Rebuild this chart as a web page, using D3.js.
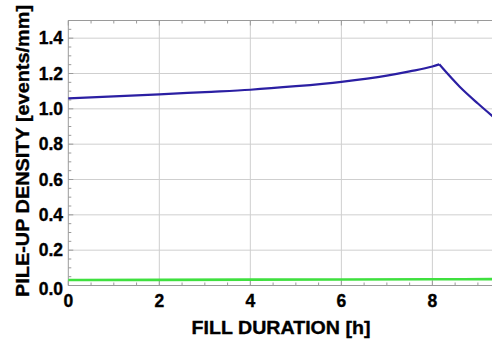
<!DOCTYPE html>
<html>
<head>
<meta charset="utf-8">
<script src="https://cdn.jsdelivr.net/npm/d3@7"></script>
<style>
  html, body { margin: 0; padding: 0; background: #fff; }
  svg { display: block; }
  text { font-family: "Liberation Sans", Arial, sans-serif; font-weight: bold; fill: #000; stroke: #000; stroke-width: 0.35px; }
</style>
</head>
<body>
<svg id="chart" width="492" height="341"></svg>
<script>
// Pile-up density during a fill: levelling phase, then decay
const levelHours   = [0, 1, 2, 3, 4, 5, 6, 7, 7.5, 8, 8.15];
const levelDensity = [1.059, 1.070, 1.082, 1.095, 1.108, 1.128, 1.153, 1.188, 1.212, 1.240, 1.252];
const decayHours   = [8.15, 8.6, 9.0, 9.35];
const decayDensity = [1.252, 1.125, 1.030, 0.952];
// Lower reference curve
const lowHours   = [0, 2, 4, 6, 8, 9.35];
const lowDensity = [0.031, 0.032, 0.033, 0.034, 0.035, 0.036];

const xMajor = [0, 2, 4, 6, 8];
const yMajor = [0, 0.2, 0.4, 0.6, 0.8, 1.0, 1.2, 1.4];
const xTitle = "FILL DURATION [h]";
const yTitle = "PILE-UP DENSITY [events/mm]";

const svg = d3.select("#chart");
const mLeft = 68.3, mRight = 492, mTop = 20.5, mBottom = 285.5;

const x = d3.scaleLinear().domain([0, 9.31]).range([mLeft, mRight]);
const y = d3.scaleLinear().domain([0, 1.5]).range([mBottom, mTop]);

// grid
const grid = svg.append("g").attr("stroke", "#cfcfcf").attr("stroke-width", 1);
grid.selectAll(".gx").data(xMajor.filter(d => d > 0)).join("line")
  .attr("x1", d => x(d)).attr("x2", d => x(d)).attr("y1", mTop).attr("y2", mBottom);
grid.selectAll(".gy").data(yMajor.filter(d => d > 0)).join("line")
  .attr("x1", mLeft).attr("x2", mRight).attr("y1", d => y(d)).attr("y2", d => y(d));

// frame with inward ticks
const frame = svg.append("g").attr("stroke", "#9a9a9a").attr("stroke-width", 1).attr("fill", "none");
frame.append("path").attr("d", `M${mRight},${mTop}H${mLeft}V${mBottom}H${mRight}`);

const xTicks = d3.range(0, 9.31, 0.5);
const yTicks = d3.range(0, 1.5001, 0.05).map(v => +v.toFixed(2));
const isMajorX = v => Math.abs(v / 2 - Math.round(v / 2)) < 1e-6;
const isMajorY = v => Math.abs(v / 0.2 - Math.round(v / 0.2)) < 1e-6;

frame.selectAll(".tb").data(xTicks).join("line")
  .attr("x1", d => x(d)).attr("x2", d => x(d))
  .attr("y1", mBottom).attr("y2", d => mBottom - (isMajorX(d) ? 5 : 3));
frame.selectAll(".tt").data(xTicks).join("line")
  .attr("x1", d => x(d)).attr("x2", d => x(d))
  .attr("y1", mTop).attr("y2", d => mTop + (isMajorX(d) ? 5 : 3));
frame.selectAll(".tl").data(yTicks).join("line")
  .attr("y1", d => y(d)).attr("y2", d => y(d))
  .attr("x1", mLeft).attr("x2", d => mLeft + (isMajorY(d) ? 5 : 3));

// tick labels
svg.append("g").selectAll("text").data(xMajor).join("text")
  .attr("x", d => x(d)).attr("y", 307).attr("text-anchor", "middle")
  .attr("font-size", 17.5).text(d => d);
svg.append("g").selectAll("text").data(yMajor).join("text")
  .attr("x", 63).attr("y", d => y(d) + (d === 0 ? 3 : 0)).attr("dy", "0.36em")
  .attr("text-anchor", "end").attr("font-size", 17.5).text(d => d.toFixed(1));

// axis titles
svg.append("text").attr("x", 281).attr("y", 334).attr("text-anchor", "middle")
  .attr("font-size", 18.5).attr("textLength", 179).attr("lengthAdjust", "spacingAndGlyphs")
  .text(xTitle);
svg.append("text").attr("transform", "translate(29,151) rotate(-90)").attr("text-anchor", "middle")
  .attr("font-size", 18.5).attr("textLength", 292).attr("lengthAdjust", "spacingAndGlyphs")
  .text(yTitle);

// curves
const plot = svg.append("g");
const line = d3.line().x(d => x(d[0])).y(d => y(d[1])).curve(d3.curveMonotoneX);
const zip = (a, b) => a.map((v, i) => [v, b[i]]);

plot.append("path").datum(zip(lowHours, lowDensity)).attr("d", line)
  .attr("fill", "none").attr("stroke", "#3fe03f").attr("stroke-width", 2.6);
plot.append("path").datum(zip(levelHours, levelDensity)).attr("d", line)
  .attr("fill", "none").attr("stroke", "#2b1fa3").attr("stroke-width", 2.2).attr("stroke-linejoin", "round");
plot.append("path").datum(zip(decayHours, decayDensity)).attr("d", line)
  .attr("fill", "none").attr("stroke", "#2b1fa3").attr("stroke-width", 2.2).attr("stroke-linejoin", "round");
</script>
</body>
</html>
